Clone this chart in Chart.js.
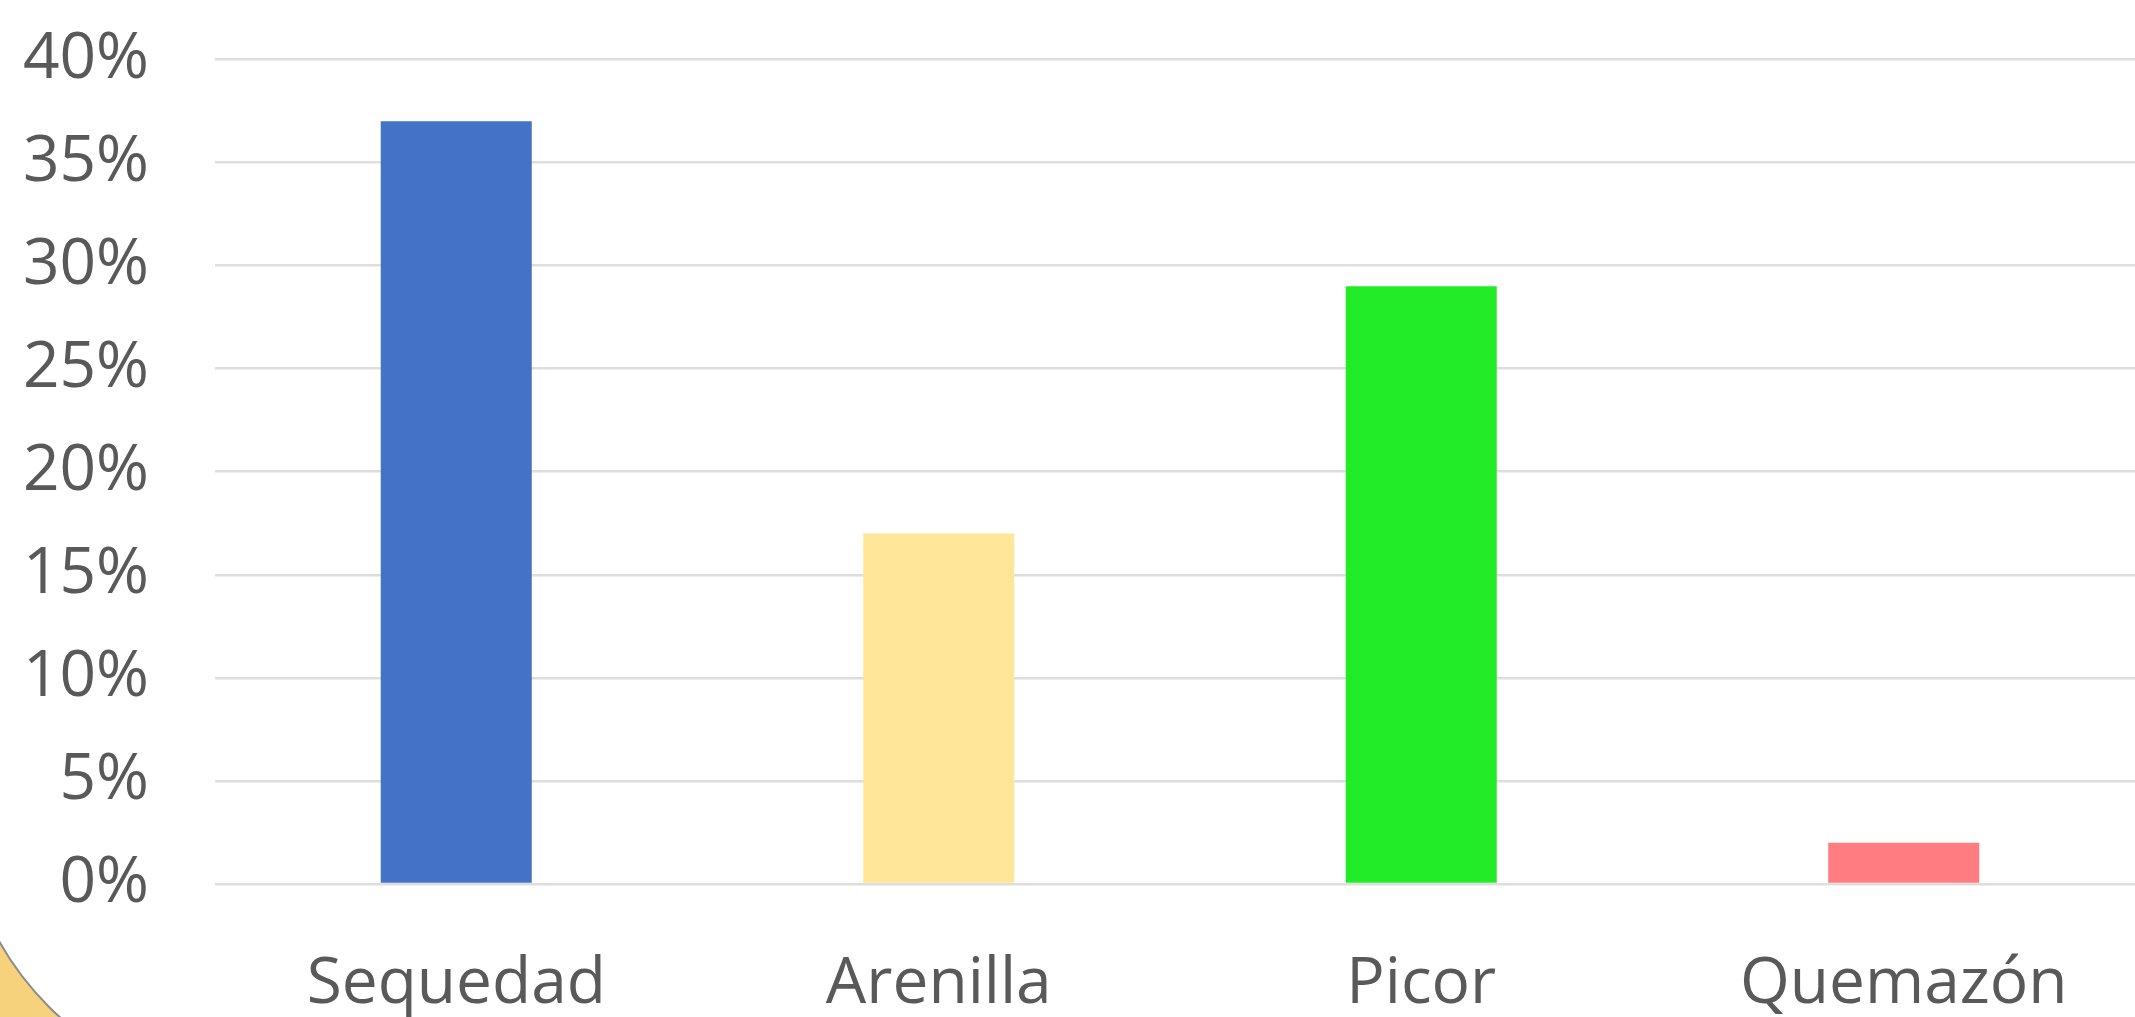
<!DOCTYPE html>
<html>
<head>
<meta charset="utf-8">
<script src="https://cdn.jsdelivr.net/npm/chart.js@4.4.1/dist/chart.umd.min.js"></script>
<style>
  html, body { margin: 0; padding: 0; width: 2135px; height: 1017px; overflow: hidden; background: #F6D27C; }
  #panel {
    position: absolute; left: -40px; top: -300px; width: 2500px; height: 1395px;
    background: #ffffff; border: 2px solid #8c8c8c; border-radius: 300px; box-sizing: border-box;
  }
  #wrap { position: absolute; left: 0; top: -45px; width: 2160px; height: 1062px; }
  canvas { display: block; }
</style>
</head>
<body>
<div id="panel"></div>
<div id="wrap"><canvas id="c" width="2160" height="1062"></canvas></div>
<script>
const categories = ["Sequedad", "Arenilla", "Picor", "Quemazón"];
const values = [37, 17, 29, 2];
const barColors = ["#4472C4", "#FFE699", "#22EC27", "#FF7C80"];
const yTicks = [0, 5, 10, 15, 20, 25, 30, 35, 40];

const textColor = "#595959";
const fontFamily = "'Open Sans', 'Noto Sans', sans-serif";

new Chart(document.getElementById("c"), {
  type: "bar",
  data: {
    labels: categories,
    datasets: [{
      data: values,
      backgroundColor: barColors,
      borderWidth: 0,
      categoryPercentage: 1.0,
      barPercentage: 0.313
    }]
  },
  options: {
    responsive: false,
    animation: false,
    devicePixelRatio: 1,
    layout: { padding: { left: 0, right: 15, top: 20, bottom: 0 } },
    plugins: { legend: { display: false }, tooltip: { enabled: false } },
    scales: {
      x: {
        grid: { display: false, drawTicks: false },
        border: { display: false },
        ticks: { color: textColor, font: { family: fontFamily, size: 64 }, padding: 62, maxRotation: 0 },
        afterFit: (s) => { s.height = 133; }
      },
      y: {
        min: 0, max: 40,
        afterBuildTicks: (s) => { s.ticks = yTicks.map(v => ({ value: v })); },
        grid: { color: "#DEDEDE", lineWidth: 2.5, drawTicks: false },
        border: { display: false },
        ticks: {
          color: textColor, font: { family: fontFamily, size: 64 }, padding: 66,
          callback: (v) => v + "%"
        },
        afterFit: (s) => { s.width = 215; }
      }
    }
  }
});
</script>
</body>
</html>
